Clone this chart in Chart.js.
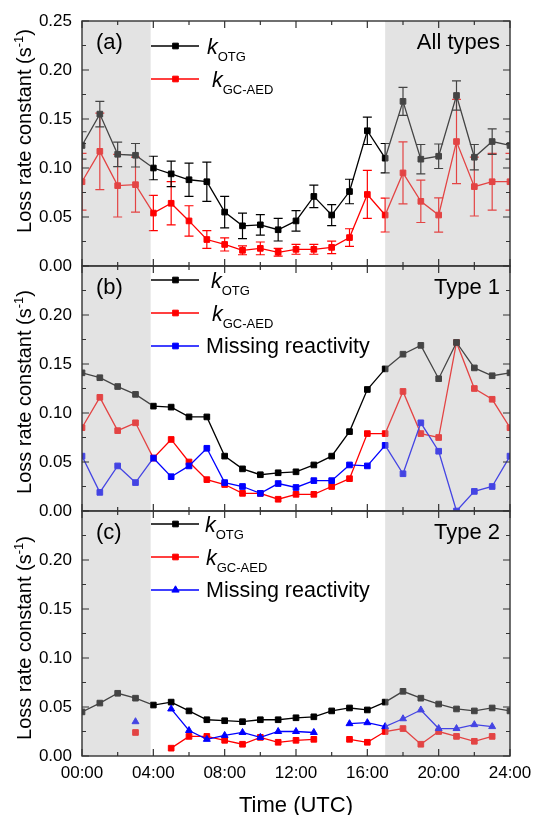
<!DOCTYPE html>
<html>
<head>
<meta charset="utf-8">
<script src="https://cdn.jsdelivr.net/npm/chart.js@4.4.1/dist/chart.umd.min.js"></script>
<style>
  html, body { margin: 0; padding: 0; background: #fff; }
  #wrap { position: relative; width: 534px; height: 815px; overflow: hidden; background: #fff; }
  #wrap canvas { position: absolute; left: 0; }
</style>
</head>
<body>
<div id="wrap">
  <canvas id="panelA"></canvas>
  <canvas id="panelB"></canvas>
  <canvas id="panelC"></canvas>
</div>
<script>
// Hour of day (UTC) for every sample
const hours = [0,1,2,3,4,5,6,7,8,9,10,11,12,13,14,15,16,17,18,19,20,21,22,23,24];
const xTickLabels = ['00:00','04:00','08:00','12:00','16:00','20:00','24:00'];
const yTickLabels = ['0.00','0.05','0.10','0.15','0.20','0.25'];
// Night-time periods (hours) shaded grey
const nightSpans = [[0, 3.85], [17, 24]];

// (a) All types: loss rate constants with one-sigma error bars
const allOTG    = [0.123,0.155,0.114,0.113,0.100,0.094,0.088,0.086,0.055,0.041,0.042,0.037,0.046,0.071,0.052,0.076,0.138,0.110,0.168,0.109,0.112,0.174,0.111,0.127,0.123];
const allOTGErr = [0.014,0.013,0.0125,0.012,0.012,0.013,0.017,0.020,0.016,0.013,0.0105,0.0115,0.0105,0.0115,0.0107,0.0125,0.014,0.015,0.0143,0.015,0.0125,0.015,0.013,0.013,0.014];
const allGC     = [0.086,0.117,0.082,0.083,0.054,0.064,0.046,0.027,0.022,0.016,0.018,0.014,0.017,0.017,0.019,0.029,0.073,0.052,0.095,0.066,0.052,0.127,0.081,0.086,0.086];
const allGCErr  = [0.029,0.039,0.032,0.028,0.018,0.022,0.0155,0.009,0.0067,0.0045,0.0065,0.004,0.005,0.005,0.0063,0.009,0.0245,0.0173,0.0317,0.0216,0.0175,0.043,0.030,0.029,0.029];

// (b) Type 1
const t1OTG     = [0.141,0.136,0.127,0.119,0.107,0.106,0.096,0.096,0.056,0.043,0.037,0.039,0.040,0.047,0.056,0.081,0.124,0.145,0.160,0.169,0.135,0.172,0.146,0.138,0.141];
const t1GC      = [0.085,0.116,0.082,0.090,0.054,0.073,0.050,0.032,0.027,0.018,0.018,0.012,0.017,0.017,0.025,0.033,0.079,0.079,0.122,0.079,0.075,0.172,0.125,0.114,0.085];
const t1Missing = [0.056,0.019,0.046,0.029,0.054,0.035,0.046,0.064,0.029,0.025,0.018,0.028,0.024,0.031,0.031,0.047,0.046,0.067,0.038,0.090,0.061,0.000,0.020,0.025,0.056];

// (c) Type 2 (gaps where no data)
const t2OTG     = [0.045,0.054,0.064,0.059,0.052,0.055,0.046,0.037,0.036,0.035,0.037,0.037,0.039,0.040,0.046,0.049,0.047,0.055,0.066,0.059,0.053,0.048,0.046,0.049,0.046];
const t2GC      = [null,null,null,0.024,null,0.008,0.020,0.020,0.016,0.012,0.019,0.014,0.016,0.017,null,0.017,0.014,0.025,0.028,0.012,0.025,0.020,0.015,0.020,null];
const t2Missing = [null,null,null,0.035,null,0.048,0.026,0.017,0.021,0.024,0.019,0.025,0.025,0.024,null,0.033,0.034,0.030,0.038,0.047,0.028,0.028,0.032,0.030,null];

const FONT = '"Liberation Sans", Arial, Helvetica, sans-serif';
const BLACK = '#000000', RED = '#ff0000', BLUE = '#0000ff';
const SHADE = 'rgba(181,181,181,0.376)';
const FRAME = '#333333';

function series(values, color, extra) {
  return Object.assign({
    data: hours.map((h, i) => ({ x: h, y: values[i] })),
    borderColor: color,
    backgroundColor: color,
    pointBackgroundColor: color,
    pointBorderColor: color,
    borderWidth: 1.3,
    pointStyle: 'rect',
    pointRadius: 4,
    pointBorderWidth: 1,
    spanGaps: false,
    tension: 0,
    clip: 0
  }, extra || {});
}

function drawRuns(ctx, x, y, runs) {
  let cx = x;
  for (const r of runs) {
    ctx.font = r.font;
    ctx.fillText(r.text, cx, y + (r.dy || 0));
    cx += ctx.measureText(r.text).width;
  }
  return cx - x;
}
function runsWidth(ctx, runs) {
  let w = 0;
  for (const r of runs) { ctx.font = r.font; w += ctx.measureText(r.text).width; }
  return w;
}

function drawMarker(ctx, style, x, y, color) {
  ctx.save();
  ctx.fillStyle = color; ctx.strokeStyle = color; ctx.lineWidth = 1;
  ctx.beginPath();
  if (style === 'triangle') {
    const r = 4.2;
    ctx.moveTo(x, y - r);
    ctx.lineTo(x + r * 0.866, y + r * 0.5);
    ctx.lineTo(x - r * 0.866, y + r * 0.5);
    ctx.closePath();
  } else {
    const s = 2.83;
    ctx.rect(x - s, y - s, 2 * s, 2 * s);
  }
  ctx.fill(); ctx.stroke();
  ctx.restore();
}

const kSub = (sub) => [
  { text: 'k', font: `italic 21.5px ${FONT}` },
  { text: sub, font: `13px ${FONT}`, dy: 7 }
];

function decorPlugin(cfg) {
  return {
    id: 'panelDecor',
    beforeDatasetDraw(chart, args) {
      const ds = chart.data.datasets[args.index];
      if (!ds.errors) return;
      const { ctx, chartArea: a, scales: { x, y } } = chart;
      ctx.save();
      ctx.beginPath();
      ctx.rect(a.left, a.top, a.right - a.left, a.bottom - a.top);
      ctx.clip();
      ctx.strokeStyle = ds.borderColor;
      ctx.lineWidth = 1.2;
      ds.data.forEach((p, i) => {
        const e = ds.errors[i];
        if (p.y == null || e == null) return;
        const px = x.getPixelForValue(p.x);
        const y1 = y.getPixelForValue(p.y - e);
        const y2 = y.getPixelForValue(p.y + e);
        ctx.beginPath();
        ctx.moveTo(px, y1); ctx.lineTo(px, y2);
        ctx.moveTo(px - 4.5, y1); ctx.lineTo(px + 4.5, y1);
        ctx.moveTo(px - 4.5, y2); ctx.lineTo(px + 4.5, y2);
        ctx.stroke();
      });
      ctx.restore();
    },
    afterDatasetsDraw(chart) {
      const { ctx, chartArea: a, scales: { x, y } } = chart;
      ctx.save();
      // night shading laid over the data
      ctx.fillStyle = SHADE;
      for (const [h0, h1] of nightSpans) {
        const x0 = x.getPixelForValue(h0), x1 = x.getPixelForValue(h1);
        ctx.fillRect(x0, a.top, x1 - x0, a.bottom - a.top);
      }
      // inward tick marks on all four sides
      ctx.strokeStyle = FRAME;
      ctx.lineWidth = 1.2;
      ctx.beginPath();
      for (let h = 0; h <= 24; h += 2) {
        const px = x.getPixelForValue(h);
        const len = h % 4 === 0 ? 7 : 4;
        ctx.moveTo(px, a.bottom); ctx.lineTo(px, a.bottom - len);
        ctx.moveTo(px, a.top); ctx.lineTo(px, a.top + len);
      }
      for (let k = 0; k <= 10; k++) {
        const py = y.getPixelForValue(k * 0.025);
        const len = k % 2 === 0 ? 7 : 4;
        ctx.moveTo(a.left, py); ctx.lineTo(a.left + len, py);
        ctx.moveTo(a.right, py); ctx.lineTo(a.right - len, py);
      }
      ctx.stroke();
      ctx.lineWidth = 1.4;
      ctx.strokeRect(a.left, a.top, a.right - a.left, a.bottom - a.top);
      ctx.restore();
    },
    afterDraw(chart) {
      const { ctx, chartArea: a } = chart;
      ctx.save();
      ctx.fillStyle = '#000';
      ctx.textBaseline = 'alphabetic';
      // panel letter and type tag
      ctx.font = `22px ${FONT}`;
      ctx.textAlign = 'left';
      ctx.fillText(cfg.letter, 96, a.top + 28);
      ctx.textAlign = 'right';
      ctx.fillText(cfg.tag, 500, a.top + 28);
      ctx.textAlign = 'left';
      // legend
      for (const item of cfg.legend) {
        const ly = a.top + item.dy;
        ctx.strokeStyle = item.color;
        ctx.lineWidth = 1.3;
        ctx.beginPath(); ctx.moveTo(151, ly); ctx.lineTo(199, ly); ctx.stroke();
        drawMarker(ctx, item.marker, 175.5, ly, item.color);
        ctx.fillStyle = '#000';
        drawRuns(ctx, item.tx, ly + item.base, item.runs);
      }
      // y-axis title
      const yTitle = [
        { text: 'Loss rate constant (s', font: `20px ${FONT}` },
        { text: '-1', font: `13px ${FONT}`, dy: -8 },
        { text: ')', font: `20px ${FONT}` }
      ];
      ctx.save();
      ctx.translate(30.5, cfg.titleCenter);
      ctx.rotate(-Math.PI / 2);
      drawRuns(ctx, -runsWidth(ctx, yTitle) / 2, 0, yTitle);
      ctx.restore();
      // x-axis title
      if (cfg.xTitle) {
        ctx.font = `22px ${FONT}`;
        ctx.textAlign = 'center';
        ctx.fillText(cfg.xTitle, (a.left + a.right) / 2, chart.height - 3);
      }
      ctx.restore();
    }
  };
}

function makePanel(id, top, height, showX, datasets, cfg) {
  const cv = document.getElementById(id);
  cv.width = 534; cv.height = height;
  cv.style.top = top + 'px';
  const xScale = {
    type: 'linear', min: 0, max: 24, display: showX,
    grid: { display: false, drawTicks: false }, border: { display: false },
    ticks: {
      stepSize: 4, autoSkip: false, maxRotation: 0, minRotation: 0, padding: 7,
      color: '#000', font: { family: FONT, size: 17 },
      callback: (v, i) => xTickLabels[i]
    }
  };
  // fixed axis band; edge labels may overhang without shrinking the plot
  if (showX) xScale.afterFit = (s) => { s.height = 59; s.paddingLeft = 0; s.paddingRight = 0; };
  return new Chart(cv, {
    type: 'line',
    data: { datasets },
    options: {
      responsive: false,
      animation: false,
      devicePixelRatio: 1,
      events: [],
      layout: { autoPadding: false, padding: { top: 21, right: 24, bottom: showX ? 0 : 24, left: 0 } },
      plugins: { legend: { display: false }, tooltip: { enabled: false } },
      scales: {
        x: xScale,
        y: {
          type: 'linear', min: 0, max: 0.25,
          grid: { display: false, drawTicks: false }, border: { display: false },
          ticks: {
            stepSize: 0.05, padding: 10, color: '#000', font: { family: FONT, size: 17 },
            callback: (v, i) => (cfg.hideTop && i === yTickLabels.length - 1) ? '' : yTickLabels[i]
          },
          afterFit: (s) => { s.width = 82; s.paddingTop = 0; s.paddingBottom = 0; }
        }
      }
    },
    plugins: [decorPlugin(cfg)]
  });
}

// (a) All types
makePanel('panelA', 0, 290, false, [
  series(allGC, RED, { errors: allGCErr, order: 2 }),
  series(allOTG, BLACK, { errors: allOTGErr, order: 1 })
], {
  letter: '(a)', tag: 'All types', hideTop: false, titleCenter: 131,
  legend: [
    { color: BLACK, marker: 'rect', dy: 25, tx: 207, base: 8, runs: kSub('OTG') },
    { color: RED, marker: 'rect', dy: 58, tx: 212, base: 8, runs: kSub('GC-AED') }
  ]
});

// (b) Type 1
makePanel('panelB', 245, 290, false, [
  series(t1GC, RED, { order: 3 }),
  series(t1OTG, BLACK, { order: 2 }),
  series(t1Missing, BLUE, { order: 1 })
], {
  letter: '(b)', tag: 'Type 1', hideTop: true, titleCenter: 147,
  legend: [
    { color: BLACK, marker: 'rect', dy: 14, tx: 211, base: 8, runs: kSub('OTG') },
    { color: RED, marker: 'rect', dy: 47, tx: 212, base: 8, runs: kSub('GC-AED') },
    { color: BLUE, marker: 'rect', dy: 80, tx: 206, base: 7, runs: [{ text: 'Missing reactivity', font: `21.5px ${FONT}` }] }
  ]
});

// (c) Type 2
makePanel('panelC', 490, 325, true, [
  series(t2GC, RED, { order: 3 }),
  series(t2OTG, BLACK, { order: 2 }),
  series(t2Missing, BLUE, { order: 1, pointStyle: 'triangle', pointRadius: 4 })
], {
  letter: '(c)', tag: 'Type 2', hideTop: true, titleCenter: 148, xTitle: 'Time (UTC)',
  legend: [
    { color: BLACK, marker: 'rect', dy: 13, tx: 205, base: 8, runs: kSub('OTG') },
    { color: RED, marker: 'rect', dy: 46, tx: 206, base: 8, runs: kSub('GC-AED') },
    { color: BLUE, marker: 'triangle', dy: 79, tx: 206, base: 7, runs: [{ text: 'Missing reactivity', font: `21.5px ${FONT}` }] }
  ]
});
</script>
</body>
</html>
